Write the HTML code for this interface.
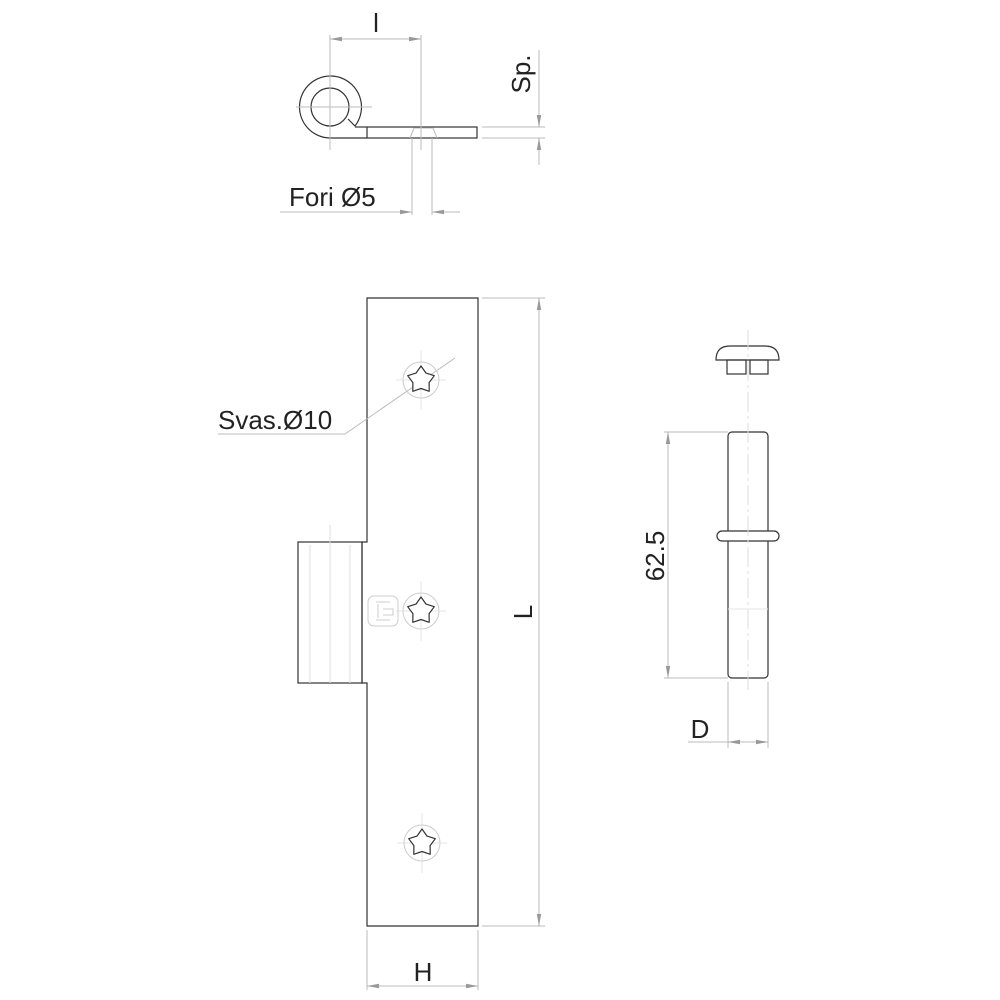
<!DOCTYPE html>
<html><head><meta charset="utf-8"><style>
html,body{margin:0;padding:0;background:#fff}
svg{display:block}
text{font-family:"Liberation Sans",sans-serif;fill:#222}
</style></head><body>
<svg width="1000" height="1000" viewBox="0 0 1000 1000" xmlns="http://www.w3.org/2000/svg">
<defs>
<marker id="a" markerWidth="12" markerHeight="6" refX="12" refY="3" orient="auto" markerUnits="userSpaceOnUse">
<path d="M0,0.8 L12,3 L0,5.2 z" fill="#999"/></marker>
<g id="scr">
<circle r="18" fill="none" stroke="#ccc" stroke-width="1"/>
<line x1="-25" y1="0" x2="25" y2="0" stroke="#ddd" stroke-width="0.8"/>
<line x1="0" y1="-30" x2="0" y2="30" stroke="#ddd" stroke-width="0.8"/>
<polygon points="0,-14 5,-6.9 13.3,-4.3 8.1,2.6 8.2,11.3 0,8.5 -8.2,11.3 -8.1,2.6 -13.3,-4.3 -5,-6.9" fill="#fff" stroke="#333" stroke-width="1.2" stroke-linejoin="round"/>
</g>
</defs>
<g fill="none" stroke="#333" stroke-width="1.2">
<path d="M367,138 L330,138 A31,31 0 1 1 355,126 L348,119"/>
<path d="M355,127 L367,127"/>
<circle cx="330" cy="107" r="19"/>
<rect x="367" y="127" width="110" height="11"/>
<path d="M367,298 L478,298 L478,926 L367,926 L367,683 L362,683 L362,542 L367,542 Z"/>
<rect x="298" y="542" width="64" height="141"/>
<path d="M721,360 L716,360 Q716,346 730,346 L765,346 Q779,346 779,360 Z"/>
<rect x="727" y="360" width="19" height="14"/>
<rect x="750" y="360" width="18" height="14"/>
<rect x="728" y="432" width="40" height="246" rx="4"/>
<rect x="717" y="531" width="62" height="10" rx="5" fill="#fff"/>
</g>
<g fill="none" stroke="#bbb" stroke-width="1">
<path d="M410,138 L414,128 L433,128 L437,138"/>
<line x1="330" y1="35" x2="330" y2="150"/><line x1="421" y1="35" x2="421" y2="150"/>
<line x1="296" y1="107" x2="372" y2="107"/>
<line x1="412" y1="138" x2="412" y2="215"/><line x1="432" y1="138" x2="432" y2="215"/>
<line x1="482" y1="127" x2="545" y2="127"/><line x1="482" y1="138" x2="545" y2="138"/>
<line x1="539" y1="50" x2="539" y2="127" marker-end="url(#a)"/>
<line x1="539" y1="165" x2="539" y2="138" marker-end="url(#a)"/>
<line x1="375" y1="39" x2="330" y2="39" marker-end="url(#a)"/>
<line x1="375" y1="39" x2="421" y2="39" marker-end="url(#a)"/>
<line x1="280" y1="212" x2="412" y2="212" marker-end="url(#a)"/>
<line x1="460" y1="212" x2="432" y2="212" marker-end="url(#a)"/>
<line x1="482" y1="298" x2="545" y2="298"/><line x1="482" y1="926" x2="545" y2="926"/>
<line x1="539" y1="612" x2="539" y2="298" marker-end="url(#a)"/>
<line x1="539" y1="612" x2="539" y2="926" marker-end="url(#a)"/>
<line x1="367" y1="930" x2="367" y2="990"/><line x1="478" y1="930" x2="478" y2="990"/>
<line x1="422" y1="986" x2="367" y2="986" marker-end="url(#a)"/>
<line x1="422" y1="986" x2="478" y2="986" marker-end="url(#a)"/>
<path d="M218,434 L345,434 L455,358"/>
<line x1="310" y1="545" x2="310" y2="683" stroke="#ddd"/><line x1="330" y1="525" x2="330" y2="683" stroke="#ddd"/><line x1="350" y1="545" x2="350" y2="683" stroke="#ddd"/>
<line x1="748" y1="330" x2="748" y2="690" stroke="#ddd" stroke-dasharray="20,4,3,4"/>
<line x1="728" y1="609" x2="768" y2="609" stroke="#e4e4e4"/>
<line x1="664" y1="432" x2="728" y2="432"/><line x1="664" y1="678" x2="728" y2="678"/>
<line x1="668" y1="555" x2="668" y2="432" marker-end="url(#a)"/>
<line x1="668" y1="555" x2="668" y2="678" marker-end="url(#a)"/>
<line x1="728" y1="682" x2="728" y2="748"/><line x1="768" y1="682" x2="768" y2="748"/>
<line x1="688" y1="742" x2="728" y2="742"/>
<line x1="748" y1="742" x2="728" y2="742" marker-end="url(#a)"/>
<line x1="748" y1="742" x2="768" y2="742" marker-end="url(#a)"/>
<rect x="368" y="596" width="30" height="30" rx="6" stroke="#ccc"/>
<path d="M376,602 h14 M376,620 h14 M378,604 v14 M383,609 h10 v6 h-10" stroke="#ccc"/>
</g>
<use href="#scr" x="421" y="380"/>
<use href="#scr" x="421" y="611"/>
<use href="#scr" x="422" y="843"/>
<text x="376" y="32" font-size="26" text-anchor="middle">l</text>
<text x="289" y="206" font-size="26">Fori Ø5</text>
<text x="218" y="429" font-size="26">Svas.Ø10</text>
<text transform="translate(530,74) rotate(-90)" font-size="26" text-anchor="middle">Sp.</text>
<text transform="translate(532,612) rotate(-90)" font-size="26" text-anchor="middle">L</text>
<text x="423" y="981" font-size="26" text-anchor="middle">H</text>
<text transform="translate(664,556) rotate(-90)" font-size="26" text-anchor="middle">62.5</text>
<text x="700" y="738" font-size="26" text-anchor="middle">D</text>
</svg>
</body></html>
